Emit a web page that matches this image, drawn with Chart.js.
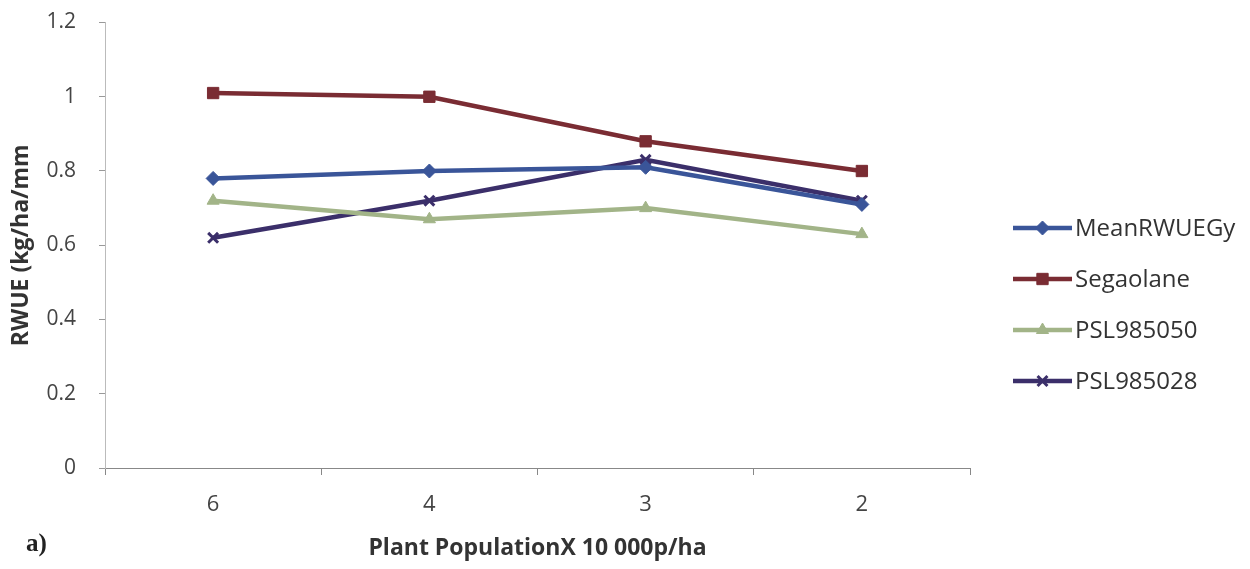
<!DOCTYPE html>
<html>
<head>
<meta charset="utf-8">
<script src="https://cdn.jsdelivr.net/npm/chart.js@4"></script>
<style>
  html, body { margin: 0; padding: 0; background: #fff; }
  #wrap { width: 1250px; height: 569px; position: relative; overflow: hidden; }
  #chart { position: absolute; left: 0; top: -11px; }
</style>
</head>
<body>
<div id="wrap"><canvas id="chart" width="1250" height="580"></canvas></div>
<script>
// values
const populations = ["6", "4", "3", "2"];
const meanRWUEGy = [0.78, 0.80, 0.81, 0.71];
const segaolane = [1.01, 1.00, 0.88, 0.80];
const psl985050 = [0.72, 0.67, 0.70, 0.63];
const psl985028 = [0.62, 0.72, 0.83, 0.72];
const yTicks = [0, 0.2, 0.4, 0.6, 0.8, 1, 1.2];

const FONT = "'Open Sans', 'Noto Sans', sans-serif";

// legend on the right, drawn as line + marker like the original
const sideLegend = {
  id: "sideLegend",
  afterDraw(chart) {
    const ctx = chart.ctx;
    const x0 = 1013, x1 = 1072, y0 = 239, step = 51;
    chart.data.datasets.forEach((ds, i) => {
      const y = y0 + i * step;
      ctx.save();
      ctx.strokeStyle = ds.borderColor;
      ctx.lineWidth = ds.borderWidth;
      ctx.beginPath();
      ctx.moveTo(x0, y);
      ctx.lineTo(x1, y);
      ctx.stroke();
      ctx.fillStyle = ds.pointBackgroundColor;
      ctx.strokeStyle = ds.pointBorderColor;
      ctx.lineWidth = ds.pointBorderWidth;
      Chart.helpers.drawPoint(ctx, {
        pointStyle: ds.pointStyle,
        radius: ds.pointRadius,
        borderWidth: ds.pointBorderWidth,
        rotation: 0
      }, (x0 + x1) / 2, y);
      ctx.restore();
      ctx.fillStyle = "#333";
      ctx.font = "24px " + FONT;
      ctx.textBaseline = "middle";
      ctx.fillText(ds.label, x1 + 3, y + 1);
    });
    // panel label
    ctx.fillStyle = "#222";
    ctx.font = "bold 25px 'Liberation Serif', serif";
    ctx.textBaseline = "middle";
    ctx.fillText("a)", 26, 556);
  }
};

function series(label, data, color, style, radius) {
  return {
    label: label,
    data: data,
    borderColor: color,
    backgroundColor: color,
    borderWidth: 4.5,
    pointStyle: style,
    pointRadius: radius,
    pointBackgroundColor: color,
    pointBorderColor: color,
    pointBorderWidth: style === "crossRot" ? 3 : 1,
    tension: 0
  };
}

new Chart(document.getElementById("chart").getContext("2d"), {
  type: "line",
  data: {
    labels: populations,
    datasets: [
      series("MeanRWUEGy", meanRWUEGy, "#3a5599", "rectRot", 7),
      series("Segaolane", segaolane, "#7a2c33", "rect", 8),
      series("PSL985050", psl985050, "#a2b488", "triangle", 7),
      series("PSL985028", psl985028, "#3b2f6a", "crossRot", 7)
    ]
  },
  options: {
    responsive: false,
    animation: false,
    layout: { padding: { left: 0, right: 280, top: 0, bottom: 0 } },
    plugins: {
      legend: { display: false },
      tooltip: { enabled: false }
    },
    scales: {
      x: {
        offset: true,
        grid: { offset: true, drawOnChartArea: false, drawTicks: true, tickLength: 7, color: "#888" },
        border: { color: "#888", width: 1 },
        ticks: { color: "#444", font: { family: FONT, size: 22 }, padding: 17 },
        title: {
          display: true,
          text: "Plant PopulationX 10 000p/ha",
          color: "#333",
          font: { family: FONT, size: 23, weight: "bold" },
          padding: { top: 0, bottom: 7 }
        },
        afterFit(scale) { scale.height = 101; }
      },
      y: {
        min: 0,
        max: 1.2,
        afterBuildTicks(scale) { scale.ticks = yTicks.map(v => ({ value: v })); },
        grid: { drawOnChartArea: false, drawTicks: true, tickLength: 6, color: "#999" },
        border: { color: "#bbb", width: 1 },
        ticks: {
          color: "#444",
          font: { family: FONT, size: 21, lineHeight: 1 },
          padding: 23,
          callback: v => String(v)
        },
        title: {
          display: true,
          text: "RWUE (kg/ha/mm",
          color: "#333",
          font: { family: FONT, size: 23, weight: "bold" },
          padding: { top: 8, bottom: 0 }
        },
        afterFit(scale) { scale.width = 105; }
      }
    }
  },
  plugins: [sideLegend]
});
</script>
</body>
</html>
